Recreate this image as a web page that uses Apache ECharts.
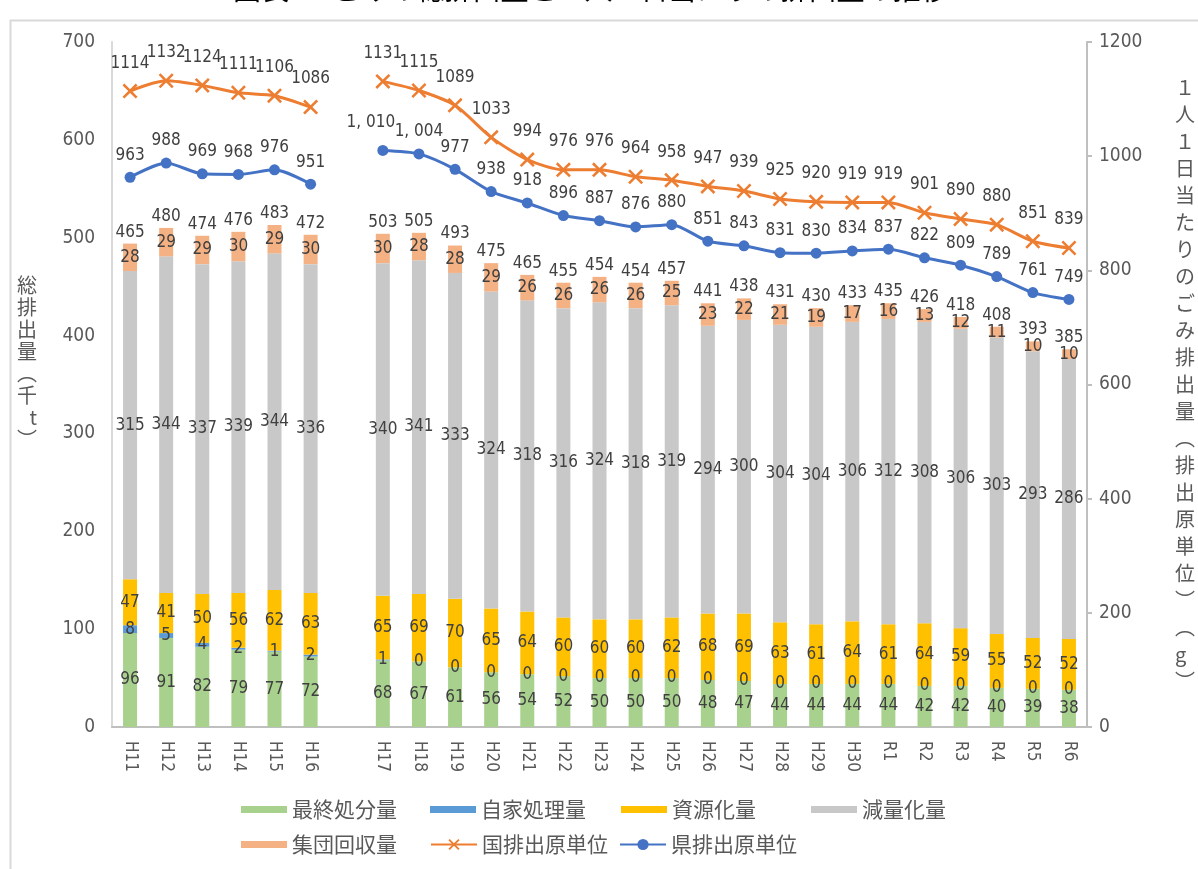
<!DOCTYPE html>
<html><head><meta charset="utf-8">
<script src="https://cdn.jsdelivr.net/npm/echarts@6/dist/echarts.min.js"></script>
<style>html,body{margin:0;padding:0;background:#fff}#c{width:1198px;height:869px}</style>
</head><body><div id="c"></div>
<script>
const categories = ['H11','H12','H13','H14','H15','H16','','H17','H18','H19','H20','H21','H22','H23','H24','H25','H26','H27','H28','H29','H30','R1','R2','R3','R4','R5','R6'];
const saishu   = [96,91,82,79,77,72,null,68,67,61,56,54,52,50,50,50,48,47,44,44,44,44,42,42,40,39,38];
const jika     = [8,5,4,2,1,2,null,1,0,0,0,0,0,0,0,0,0,0,0,0,0,0,0,0,0,0,0];
const shigen   = [47,41,50,56,62,63,null,65,69,70,65,64,60,60,60,62,68,69,63,61,64,61,64,59,55,52,52];
const genryo   = [315,344,337,339,344,336,null,340,341,333,324,318,316,324,318,319,294,300,304,304,306,312,308,306,303,293,286];
const shudan   = [28,29,29,30,29,30,null,30,28,28,29,26,26,26,26,25,23,22,21,19,17,16,13,12,11,10,10];
const totals   = [465,480,474,476,483,472,null,503,505,493,475,465,455,454,454,457,441,438,431,430,433,435,426,418,408,393,385];
const kuniUnit = [1114,1132,1124,1111,1106,1086,null,1131,1115,1089,1033,994,976,976,964,958,947,939,925,920,919,919,901,890,880,851,839];
const kenUnit  = [963,988,969,968,976,951,null,1010,1004,977,938,918,896,887,876,880,851,843,831,830,834,837,822,809,789,761,749];
const leftTicks = [0,100,200,300,400,500,600,700];
const rightTicks = [0,200,400,600,800,1000,1200];

const NUM_FONT = "'Liberation Sans Narrow','DejaVu Sans Condensed','Roboto Condensed',sans-serif";
const JP_FONT = "'Noto Sans CJK JP','Noto Sans',sans-serif";
const LABEL = {show:true, position:'inside', color:'#404040', fontSize:17, fontFamily:NUM_FONT};

function nz(a){return a.map(v=>v==null?'-':v);}
function barSeries(name, data, color){
  return {name, type:'bar', stack:'s', data:nz(data), barWidth:14, itemStyle:{color},
    label:Object.assign({}, LABEL), z:2};
}
const xSym = 'path://M0,1.2L1.2,0L5,3.8L8.8,0L10,1.2L6.2,5L10,8.8L8.8,10L5,6.2L1.2,10L0,8.8L3.8,5Z';

const series = [
  barSeries('最終処分量', saishu, '#A9D18E'),
  barSeries('自家処理量', jika, '#5B9BD5'),
  barSeries('資源化量', shigen, '#FFC000'),
  barSeries('減量化量', genryo, '#C8C8C8'),
  barSeries('集団回収量', shudan, '#F4B183'),
  {name:'合計', type:'bar', stack:'s', barWidth:14, data:totals.map(t=>t==null?'-':0),
    itemStyle:{color:'transparent'},
    label:{show:true, position:'top', distance:3, color:'#404040', fontSize:17, fontFamily:NUM_FONT,
      formatter:p=>totals[p.dataIndex]}},
  {name:'国排出原単位', type:'line', yAxisIndex:1, data:kuniUnit, smooth:0.25, connectNulls:false,
    symbol:xSym, symbolSize:15, lineStyle:{width:3, color:'#ED7D31'}, itemStyle:{color:'#ED7D31'},
    label:{show:true, position:'top', distance:12, color:'#404040', fontSize:17, fontFamily:NUM_FONT}, z:5},
  {name:'県排出原単位', type:'line', yAxisIndex:1, data:kenUnit.map((v,i)=> i===7 ? {value:v, label:{offset:[-12,-6]}} : v),
    smooth:0.25, connectNulls:false,
    symbol:'circle', symbolSize:11, lineStyle:{width:3, color:'#4472C4'}, itemStyle:{color:'#4472C4'},
    label:{show:true, position:'top', distance:8, color:'#404040', fontSize:17, fontFamily:NUM_FONT,
      formatter:p=>{const v=p.value; return v>=1000 ? (Math.floor(v/1000)+', '+String(v%1000).padStart(3,'0')) : String(v);}}, z:5}
];

function leg(name, left, top, isLine){
  return {data:[name], left, top, itemWidth:46, itemHeight:isLine?14:7, icon:isLine?undefined:'rect',
    textStyle:{fontSize:21, color:'#595959', fontFamily:JP_FONT}, selectedMode:false};
}

const leftName = ['総','排','出','量','︵','千','t','︶','\u3000','\u3000'].join('\n');
const rightName = ['１','人','１','日','当','た','り','の','ご','み','排','出','量','︵','排','出','原','単','位','︶','︵','g','︶'].join('\n');

const chart = echarts.init(document.getElementById('c'));
chart.setOption({
  animation:false,
  backgroundColor:'#fff',
  title:{text:'図表7　ごみの総排出量と１人１日当たりの排出量の推移', left:228, top:-30,
    textStyle:{fontSize:28, fontWeight:'normal', color:'#000', fontFamily:JP_FONT}},
  graphic:[{type:'rect', left:8, top:18, shape:{width:1400, height:1000},
    style:{fill:'none', stroke:'#d9d9d9', lineWidth:2}, silent:true}],
  legend:[
    leg('最終処分量',236,794,false), leg('自家処理量',425,794,false), leg('資源化量',616,794,false), leg('減量化量',806,794,false),
    leg('集団回収量',236,829,false), leg('国排出原単位',425,829,true), leg('県排出原単位',614,829,true)
  ],
  grid:{left:112, right:101, top:42, bottom:142},
  xAxis:{type:'category', data:categories, axisLine:{lineStyle:{color:'#BFBFBF', width:2}}, axisTick:{show:false},
    axisLabel:{rotate:-90, interval:0, margin:14, color:'#595959', fontSize:17, fontFamily:NUM_FONT}},
  yAxis:[
    {type:'value', min:leftTicks[0], max:leftTicks[leftTicks.length-1], interval:100, splitLine:{show:false},
      axisLine:{show:true, lineStyle:{color:'#D9D9D9', width:2}}, axisTick:{show:false},
      axisLabel:{margin:17, color:'#595959', fontSize:19, fontFamily:NUM_FONT},
      name:leftName, nameLocation:'middle', nameRotate:0, nameGap:75,
      nameTextStyle:{fontSize:20, lineHeight:22, color:'#595959', fontFamily:JP_FONT}},
    {type:'value', min:rightTicks[0], max:rightTicks[rightTicks.length-1], interval:200, splitLine:{show:false},
      axisLine:{show:true, lineStyle:{color:'#BFBFBF', width:2}}, axisTick:{show:true, length:5, lineStyle:{color:'#BFBFBF', width:2}},
      axisLabel:{margin:12, color:'#595959', fontSize:19, fontFamily:NUM_FONT, formatter:v=>String(v)},
      name:rightName, nameLocation:'middle', nameRotate:0, nameGap:88,
      nameTextStyle:{fontSize:20, lineHeight:27, color:'#595959', fontFamily:JP_FONT, padding:[0,0,10,0]}}
  ],
  series
});
</script></body></html>
